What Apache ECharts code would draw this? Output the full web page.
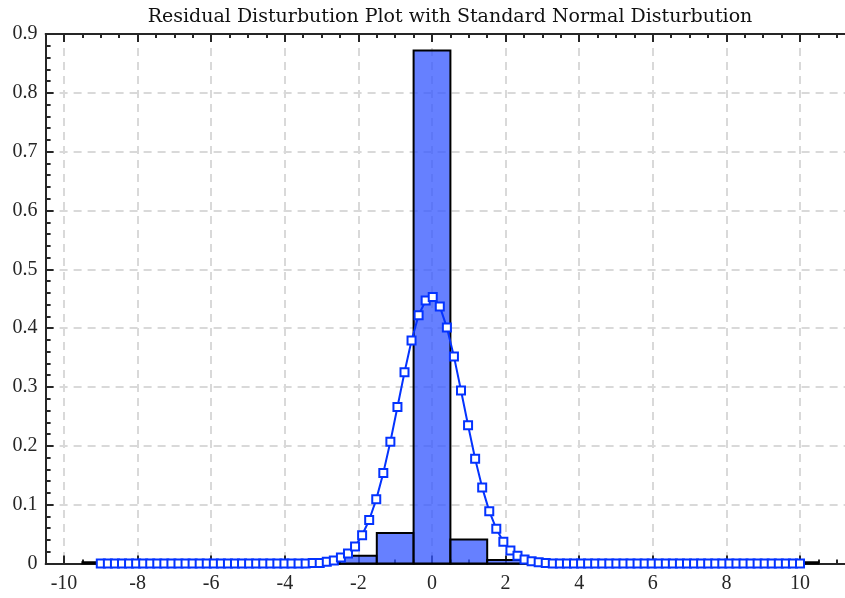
<!DOCTYPE html>
<html>
<head>
<meta charset="utf-8">
<script src="https://cdn.jsdelivr.net/npm/echarts@6/dist/echarts.min.js"></script>
<style>
  html, body { margin: 0; padding: 0; background: #fff; }
  #chart { width: 845px; height: 598px; }
</style>
</head>
<body>
<div id="chart"></div>
<script>
// histogram of residuals (bin edges and normalised heights)
var binEdges = [-9.5, -8.5, -7.5, -6.5, -5.5, -4.5, -3.5, -2.5, -1.5, -0.5,
  0.5, 1.5, 2.5, 3.5, 4.5, 5.5, 6.5, 7.5, 8.5, 9.5, 10.5]
var binHeights = [0.002, 0, 0, 0, 0, 0, 0.003, 0.013, 0.052, 0.872,
  0.041, 0.006, 0, 0, 0, 0, 0, 0, 0, 0.002]

// fitted normal curve
var curveX = [
  -9.000, -8.808, -8.616, -8.424, -8.232, -8.040, -7.848, -7.657, -7.465, -7.273,
  -7.081, -6.889, -6.697, -6.505, -6.313, -6.121, -5.929, -5.737, -5.545, -5.354,
  -5.162, -4.970, -4.778, -4.586, -4.394, -4.202, -4.010, -3.818, -3.626, -3.434,
  -3.242, -3.051, -2.859, -2.667, -2.475, -2.283, -2.091, -1.899, -1.707, -1.515,
  -1.323, -1.131, -0.939, -0.747, -0.556, -0.364, -0.172, 0.020, 0.212, 0.404,
  0.596, 0.788, 0.980, 1.172, 1.364, 1.556, 1.747, 1.939, 2.131, 2.323,
  2.515, 2.707, 2.899, 3.091, 3.283, 3.475, 3.667, 3.859, 4.051, 4.242,
  4.434, 4.626, 4.818, 5.010, 5.202, 5.394, 5.586, 5.778, 5.970, 6.162,
  6.354, 6.545, 6.737, 6.929, 7.121, 7.313, 7.505, 7.697, 7.889, 8.081,
  8.273, 8.465, 8.657, 8.848, 9.040, 9.232, 9.424, 9.616, 9.808, 10.000
]
var curveY = [
  0, 0, 0, 0, 0, 0, 0, 0, 0, 0,
  0, 0, 0, 0, 0, 0, 0, 0, 0, 0,
  0, 0, 0, 0, 0, 0, 0, 0, 0, 0,
  0.001, 0.001, 0.003, 0.005, 0.010, 0.017, 0.029, 0.048, 0.074, 0.109,
  0.154, 0.207, 0.266, 0.325, 0.379, 0.422, 0.447, 0.453, 0.437, 0.401,
  0.352, 0.294, 0.235, 0.178, 0.129, 0.089, 0.059, 0.037, 0.022, 0.013,
  0.007, 0.004, 0.002, 0.001, 0, 0, 0, 0, 0, 0,
  0, 0, 0, 0, 0, 0, 0, 0, 0, 0,
  0, 0, 0, 0, 0, 0, 0, 0, 0, 0,
  0, 0, 0, 0, 0, 0, 0, 0, 0, 0
]

var titleText = 'Residual Disturbution Plot with Standard Normal Disturbution'

var AXIS = '#262626'
var BLUE = '#0433ff'
var GRID = '#d9d9d9'
var SERIF = '"Liberation Serif", "Times New Roman", serif'

var histData = binHeights.map(function (h, i) {
  return [binEdges[i], binEdges[i + 1], h]
})
var lineData = curveX.map(function (x, i) { return [x, curveY[i]] })

var chart = echarts.init(document.getElementById('chart'), null, { renderer: 'canvas' })

chart.setOption({
  animation: false,
  backgroundColor: '#fff',
  graphic: [{
    type: 'text',
    x: 450,
    y: 17,
    style: {
      text: titleText,
      align: 'center',
      verticalAlign: 'middle',
      font: '19px "DejaVu Serif", serif',
      fill: '#111'
    }
  }],
  grid: [
    // axes run past the right edge of the canvas, as in the reference
    { left: 45.6, width: 809.6, top: 34, bottom: 34.5, outerBoundsMode: 'none', containLabel: false },
    { left: 64, width: 736, top: 34, bottom: 34.5, outerBoundsMode: 'none', containLabel: false }
  ],
  xAxis: [
    {
      // minor ticks + frame, data axis
      type: 'value', gridIndex: 0, position: 'bottom',
      min: -10.5, max: 11.5, interval: 0.5,
      axisLine: { show: true, onZero: false, lineStyle: { color: AXIS, width: 2 } },
      axisTick: { show: true, inside: true, length: 4, lineStyle: { color: AXIS, width: 2 } },
      axisLabel: { show: false },
      splitLine: { show: false }
    },
    {
      type: 'value', gridIndex: 0, position: 'top',
      min: -10.5, max: 11.5, interval: 0.5,
      axisLine: { show: true, onZero: false, lineStyle: { color: AXIS, width: 2 } },
      axisTick: { show: true, inside: true, length: 4, lineStyle: { color: AXIS, width: 2 } },
      axisLabel: { show: false },
      splitLine: { show: false }
    },
    {
      // major ticks, labels, grid
      type: 'value', gridIndex: 1, position: 'bottom',
      min: -10, max: 10, interval: 2,
      axisLine: { show: false },
      axisTick: { show: true, inside: true, length: 8, lineStyle: { color: AXIS, width: 2 } },
      axisLabel: { show: true, margin: 10, color: AXIS, fontFamily: SERIF, fontSize: 20 },
      splitLine: { show: true, lineStyle: { color: GRID, width: 2, type: [8, 6] } }
    },
    {
      type: 'value', gridIndex: 1, position: 'top',
      min: -10, max: 10, interval: 2,
      axisLine: { show: false },
      axisTick: { show: true, inside: true, length: 8, lineStyle: { color: AXIS, width: 2 } },
      axisLabel: { show: false },
      splitLine: { show: false }
    }
  ],
  yAxis: [
    {
      type: 'value', gridIndex: 0, position: 'left',
      min: 0, max: 0.9, interval: 0.1,
      axisLine: { show: true, onZero: false, lineStyle: { color: AXIS, width: 2 } },
      axisTick: { show: true, inside: true, length: 8, lineStyle: { color: AXIS, width: 2 } },
      minorTick: { show: true, splitNumber: 5, length: 5, lineStyle: { color: AXIS, width: 2 } },
      axisLabel: {
        show: true, margin: 8, color: AXIS, fontFamily: SERIF, fontSize: 20,
        formatter: function (v) { return String(Math.round(v * 10) / 10) }
      },
      splitLine: { show: true, lineStyle: { color: GRID, width: 2, type: [8, 6] } }
    },
    { type: 'value', gridIndex: 1, min: 0, max: 0.9, show: false }
  ],
  series: [
    {
      type: 'custom',
      xAxisIndex: 0,
      yAxisIndex: 0,
      z: 2,
      data: histData,
      renderItem: function (params, api) {
        var h = api.value(2)
        if (!h) return null
        var p0 = api.coord([api.value(0), h])
        var p1 = api.coord([api.value(1), 0])
        return {
          type: 'rect',
          shape: { x: p0[0], y: p0[1], width: p1[0] - p0[0], height: p1[1] - p0[1] },
          style: { fill: 'rgba(51,85,255,0.75)', stroke: '#000', lineWidth: 2 }
        }
      }
    },
    {
      type: 'line',
      xAxisIndex: 0,
      yAxisIndex: 0,
      z: 3,
      data: lineData,
      symbol: 'rect',
      symbolSize: 8,
      showAllSymbol: true,
      lineStyle: { color: BLUE, width: 2 },
      itemStyle: { color: '#fff', borderColor: BLUE, borderWidth: 2 },
      emphasis: { disabled: true }
    }
  ]
})
</script>
</body>
</html>
